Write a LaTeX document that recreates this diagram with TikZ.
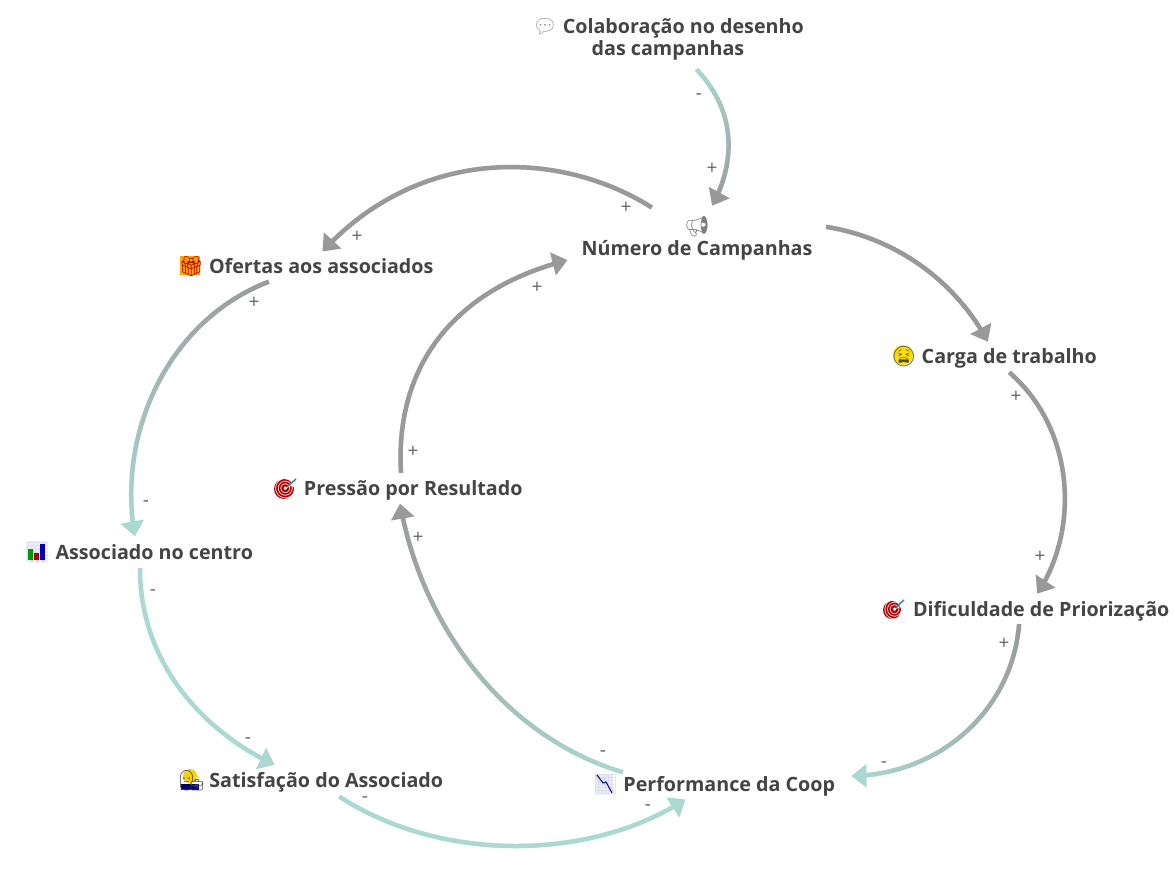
\documentclass[tikz,border=0pt]{standalone}
\usepackage{fontspec}
\setmainfont{Open Sans}
\newfontfamily\emojifont{Noto Emoji}
\usetikzlibrary{decorations.markings}

\definecolor{linkgrey}{HTML}{999999}
\definecolor{linkteal}{HTML}{ABD8D1}
\definecolor{labelink}{HTML}{444444}
\definecolor{signink}{HTML}{666666}

\newcommand{\emj}[2]{{\emojifont\fontsize{20}{22}\selectfont\color{#1}#2}}

\tikzset{
  item/.style={text=labelink, font=\fontsize{19.7}{22}\selectfont\bfseries, align=center, inner sep=0pt},
  sign/.style={text=signink, font=\fontsize{19}{19}\selectfont, inner sep=0pt},
  link/.style 2 args={
    postaction={decorate, decoration={markings,
      mark=between positions 0 and -10pt step 1.5pt with {
        \pgfmathsetmacro{\mixpct}{min(100,100*(\pgfkeysvalueof{/pgf/decoration/mark info/distance from start}/\pgfdecoratedpathlength))}
        \draw[line width=4.5pt, color=#2!\mixpct!#1] (-1pt,0pt) -- (1pt,0pt);
      }}},
    postaction={decorate, decoration={markings,
      mark=at position 0.998 with {
        \fill[#2] (0pt,0pt) -- (-15pt,12pt) -- (-15pt,-12pt) -- cycle;
      }}}}
}

\begin{document}
\begin{tikzpicture}[x=1pt,y=-1pt]
\useasboundingbox (0,0) rectangle (1174,874);

% colour under the emoji
\fill[orange!70!yellow] (180,256) rectangle (200,275);
\fill[yellow!80!orange] (903,355) circle[radius=10];
\fill[red!70!black] (284,489) circle[radius=10];
\fill[red!70!black] (892,610) circle[radius=9];
\fill[blue!8] (26,541) rectangle (46,561);
\fill[blue!8] (595,774) rectangle (613,794);
\fill[yellow!70!orange] (190,776) circle[radius=7];
\fill[blue!40!black] (181,784) rectangle (199,790);

\node[item] (colab) at (668,39) {\emj{gray!70}{💬} Colaboração no desenho\\das campanhas};
\node[item] (numero) at (697,238) {\emj{gray}{📢}\\Número de Campanhas};
\node[item] (ofertas) at (306,267) {\emj{red!75!black}{🎁} Ofertas aos associados};
\node[item] (carga) at (994,357) {\emj{black!70}{😫} Carga de trabalho};
\node[item] (pressao) at (398,489) {\emj{white}{🎯} Pressão por Resultado};
\node[item] (assoc) at (139,553) {\emj{gray!30}{📊} Associado no centro};
\node[item] (dific) at (1026,610) {\emj{white}{🎯} Dificuldade de Priorização};
\node[item] (satisf) at (311,781) {\emj{black!70}{👩‍💼} Satisfação do Associado};
\node[item] (perf) at (714,785) {\emj{gray!30}{📉} Performance da Coop};

\fill[green!60!black] (28,549) rectangle (33,560);
\fill[red!70!black] (34,553) rectangle (39,560);
\fill[blue!70!black] (40,544) rectangle (45,560);
\draw[blue!70!black, line width=1pt] (597,775) -- (603,783) -- (606,782) -- (612,793);
\draw[cyan!60!black, line width=1.5pt] (288,486) -- (296,479);
\draw[cyan!60!black, line width=1.5pt] (896,607) -- (904,600);

\path[link={linkteal}{linkgrey}] ([shift={(29,31)}]colab.center) .. controls +(38,40) and +(25,-46) .. ([shift={(15,-32)}]numero.center);
\path[link={linkgrey}{linkgrey}] ([shift={(-46,-31)}]numero.center) .. controls +(-91,-57) and +(98,-107) .. ([shift={(16,-15)}]ofertas.center);
\path[link={linkgrey}{linkteal}] ([shift={(-38,15)}]ofertas.center) .. controls +(-98,38) and +(-19,-106) .. ([shift={(-4,-16)}]assoc.center);
\path[link={linkteal}{linkteal}] ([shift={(1,16)}]assoc.center) .. controls +(0,91) and +(-75,-35) .. ([shift={(-36,-16)}]satisf.center);
\path[link={linkteal}{linkteal}] ([shift={(29,16)}]satisf.center) .. controls +(100,65) and +(-96,63) .. ([shift={(-28,14)}]perf.center);
\path[link={linkteal}{linkgrey}] ([shift={(-92,-13)}]perf.center) .. controls +(-122,-37) and +(20,117) .. ([shift={(2,14)}]pressao.center);
\path[link={linkgrey}{linkgrey}] ([shift={(3,-17)}]pressao.center) .. controls +(-6,-102) and +(-118,30) .. ([shift={(-129,22)}]numero.center);
\path[link={linkgrey}{linkgrey}] ([shift={(130,-11)}]numero.center) .. controls +(68,11) and +(-33,-62) .. ([shift={(-6,-15)}]carga.center);
\path[link={linkgrey}{linkgrey}] ([shift={(16,16)}]carga.center) .. controls +(65,57) and +(43,-64) .. ([shift={(11,-16)}]dific.center);
\path[link={linkgrey}{linkteal}] ([shift={(-7,15)}]dific.center) .. controls +(-7,85) and +(89,-1) .. ([shift={(137,-9)}]perf.center);

\node[sign] (s1) at (699,97) {-};
\node[sign] (s2) at (712,169) {+};
\node[sign] (s3) at (626,208) {+};
\node[sign] (s4) at (357,237) {+};
\node[sign] (s5) at (254,303) {+};
\node[sign] (s6) at (146,504) {-};
\node[sign] (s7) at (153,593) {-};
\node[sign] (s8) at (248,741) {-};
\node[sign] (s9) at (365,800) {-};
\node[sign] (s10) at (648,808) {-};
\node[sign] (s11) at (603,754) {-};
\node[sign] (s12) at (418,538) {+};
\node[sign] (s13) at (413,452) {+};
\node[sign] (s14) at (537,288) {+};
\node[sign] (s15) at (1016,397) {+};
\node[sign] (s16) at (1040,557) {+};
\node[sign] (s17) at (1004,644) {+};
\node[sign] (s18) at (884,765) {-};

\end{tikzpicture}
\end{document}
